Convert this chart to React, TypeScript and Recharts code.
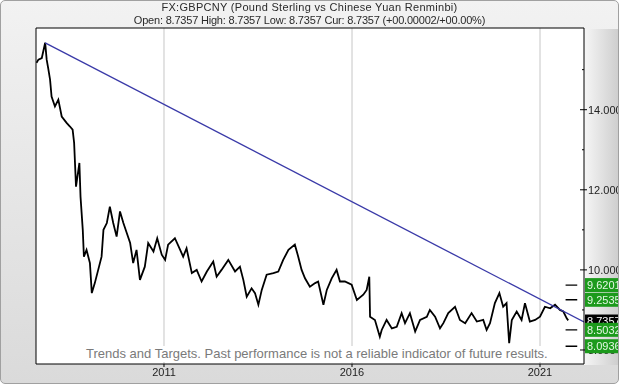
import React from "react";
import {
  LineChart,
  Line,
  XAxis,
  YAxis,
  CartesianGrid,
  ReferenceLine,
} from "recharts";

// GBPCNY, decimal year vs rate
const dates = [
  2007.61, 2007.66, 2007.75, 2007.84, 2007.88, 2007.92, 2007.97, 2008.01, 2008.1, 2008.19,
  2008.28, 2008.41, 2008.5, 2008.57, 2008.61, 2008.66, 2008.75, 2008.78, 2008.84, 2008.87,
  2008.94, 2009.03, 2009.08, 2009.16, 2009.25, 2009.34, 2009.39, 2009.48, 2009.56, 2009.65,
  2009.74, 2009.83, 2009.92, 2010.01, 2010.1, 2010.18, 2010.27, 2010.36, 2010.49, 2010.58,
  2010.72, 2010.82, 2010.94, 2011.03, 2011.11, 2011.29, 2011.43, 2011.51, 2011.6, 2011.74,
  2011.87, 2012.0, 2012.14, 2012.31, 2012.4, 2012.53, 2012.71, 2012.89, 2013.02, 2013.11,
  2013.2, 2013.33, 2013.42, 2013.51, 2013.6, 2013.73, 2013.91, 2014.04, 2014.17, 2014.31,
  2014.48, 2014.57, 2014.66, 2014.75, 2014.88, 2015.02, 2015.1, 2015.24, 2015.33, 2015.46,
  2015.59, 2015.68, 2015.81, 2015.99, 2016.13, 2016.3, 2016.39, 2016.46, 2016.48, 2016.61,
  2016.74, 2016.79, 2016.92, 2017.06, 2017.19, 2017.32, 2017.41, 2017.54, 2017.68, 2017.81,
  2017.99, 2018.07, 2018.21, 2018.34, 2018.43, 2018.56, 2018.74, 2018.87, 2019.01, 2019.18,
  2019.32, 2019.49, 2019.58, 2019.67, 2019.8, 2019.92, 2020.02, 2020.11, 2020.18, 2020.25,
  2020.38, 2020.51, 2020.6, 2020.73, 2020.87, 2021.0, 2021.13, 2021.27, 2021.4, 2021.53,
  2021.62, 2021.71, 2021.75,
];
const rates = [
  15.17, 15.25, 15.29, 15.67, 15.25, 15.04, 14.75, 14.33, 14.08, 14.25,
  13.83, 13.67, 13.58, 13.5, 13.17, 12.08, 12.67, 11.83, 11.0, 10.33,
  10.5, 10.17, 9.42, 9.67, 10.0, 10.33, 11.0, 11.17, 11.58, 11.17,
  10.83, 11.46, 11.17, 10.92, 10.67, 10.17, 10.5, 9.75, 10.08, 10.67,
  10.46, 10.79, 10.38, 10.25, 10.63, 10.79, 10.5, 10.33, 10.54, 9.92,
  10.0, 9.71, 9.96, 10.21, 9.83, 10.0, 10.25, 9.96, 10.08, 9.75,
  9.33, 9.54, 9.42, 9.13, 9.5, 9.88, 9.92, 9.96, 10.25, 10.5,
  10.63, 10.33, 10.0, 9.79, 9.58, 9.67, 9.71, 9.13, 9.5, 9.79,
  10.0, 9.71, 9.71, 9.63, 9.25, 9.38, 9.5, 9.83, 8.83, 8.75,
  8.33, 8.5, 8.75, 8.54, 8.58, 8.92, 8.67, 8.92, 8.46, 8.75,
  8.83, 9.0, 8.83, 8.54, 8.67, 8.92, 9.08, 8.75, 8.67, 8.92,
  8.71, 8.75, 8.5, 8.67, 9.17, 9.42, 9.08, 9.17, 8.17, 8.75,
  8.96, 8.75, 9.17, 8.71, 8.75, 8.83, 9.08, 9.04, 9.13, 9.0,
  8.96, 8.79, 8.74,
];

// trend line from the 2007 high to the right edge
const trendDates = [2007.84, 2022.17];
const trendValues = [15.67, 8.7];

const targetLevels = [9.6201, 9.2535, 8.5032, 8.0936];
const currentLevel = 8.7357;
const targetDashFrom = 2021.68;
const targetDashTo = 2021.99;

const yearTicks = [2011, 2016, 2021];
const majorTicks = [8, 10, 12, 14];
const minorTicks = [9, 11, 13, 15];

const X_DOMAIN: [number, number] = [2007.596, 2022.17];
const Y_DOMAIN: [number, number] = [7.65, 16.04];

const priceData = dates.map((t, i) => ({ t, v: rates[i] }));
const trendData = trendDates.map((t, i) => ({ t, v: trendValues[i] }));

const FONT = "'Liberation Sans', Arial, sans-serif";

const RightTick = (props: any) => {
  const { x, y, payload } = props;
  const v = payload.value as number;
  if (majorTicks.includes(v)) {
    return (
      <g>
        <line x1={x - 4} x2={x + 3} y1={y} y2={y} stroke="#000" />
        <text x={x + 4} y={y + 4} fontSize={11} fill="#222" fontFamily={FONT}>
          {v.toFixed(3)}
        </text>
      </g>
    );
  }
  if (minorTicks.includes(v)) {
    return <line x1={x - 2} x2={x} y1={y} y2={y} stroke="#000" />;
  }
  const isCur = v === currentLevel;
  return (
    <g>
      <rect
        x={x + 1}
        y={isCur ? y - 6 : y - 7}
        width={40}
        height={isCur ? 12 : 14}
        fill={isCur ? "#000" : "#1c9a1c"}
      />
      <text x={x + 3} y={y + 4} fontSize={11} fill={isCur ? "#fff" : "#e4f7e4"} fontFamily={FONT}>
        {v.toFixed(4)}
      </text>
    </g>
  );
};

export default function App() {
  return (
    <div
      style={{
        position: "fixed",
        left: 0,
        top: 0,
        width: 619,
        height: 384,
        boxSizing: "border-box",
        border: "1px solid #a0a0a0",
        borderRadius: 5,
        background: "linear-gradient(to bottom, #f2f2f2, #dadada)",
        overflow: "hidden",
        fontFamily: FONT,
      }}
    >
      <div
        style={{
          position: "absolute",
          left: 583,
          top: 28,
          width: 36,
          height: 336,
          background: "linear-gradient(to right, #f6f6f6, #cccccc)",
        }}
      />
      <div
        style={{
          position: "absolute",
          left: -1,
          top: 0,
          width: 619,
          textAlign: "center",
          fontSize: 11,
          lineHeight: "13px",
          color: "#2a2a2a",
          whiteSpace: "nowrap",
        }}
      >
        <div style={{ letterSpacing: "0.3px" }}>
          FX:GBPCNY (Pound Sterling vs Chinese Yuan Renminbi)
        </div>
        <div style={{ letterSpacing: "-0.2px" }}>
          Open: 8.7357 High: 8.7357 Low: 8.7357 Cur: 8.7357 (+00.00002/+00.00%)
        </div>
      </div>
      <div style={{ position: "absolute", left: -1, top: -1 }}>
        <LineChart
          width={619}
          height={384}
          margin={{ top: 28, right: 0, bottom: 0, left: 0 }}
        >
          <CartesianGrid
            fill="#fff"
            stroke="#c6c6c6"
            horizontalValues={majorTicks}
            verticalValues={yearTicks}
          />
          <XAxis
            type="number"
            dataKey="t"
            domain={X_DOMAIN}
            allowDataOverflow
            ticks={yearTicks}
            interval={0}
            height={20}
            tickSize={3}
            tickMargin={1}
            axisLine={{ stroke: "#000" }}
            tickLine={{ stroke: "#000" }}
            tick={{ fontSize: 11, fill: "#222", fontFamily: FONT }}
          />
          <YAxis
            yAxisId="left"
            orientation="left"
            type="number"
            domain={Y_DOMAIN}
            allowDataOverflow
            ticks={[...majorTicks, ...minorTicks]}
            width={36}
            tick={false}
            tickSize={2}
            axisLine={{ stroke: "#000" }}
            tickLine={{ stroke: "#000" }}
          />
          <YAxis
            yAxisId="right"
            orientation="right"
            type="number"
            domain={Y_DOMAIN}
            allowDataOverflow
            ticks={[...majorTicks, ...minorTicks, currentLevel, ...targetLevels]}
            interval={0}
            width={35}
            tickSize={0}
            tickMargin={0}
            tickLine={false}
            axisLine={{ stroke: "#000" }}
            tick={<RightTick />}
          />
          <ReferenceLine yAxisId="right" y={Y_DOMAIN[1]} stroke="#000" />
          <Line
            yAxisId="right"
            data={priceData}
            dataKey="v"
            type="linear"
            stroke="#000"
            strokeWidth={1.8}
            dot={false}
            isAnimationActive={false}
          />
          <Line
            yAxisId="right"
            data={trendData}
            dataKey="v"
            type="linear"
            stroke="#3a3aa8"
            strokeWidth={1.3}
            dot={false}
            isAnimationActive={false}
          />
          {targetLevels.map((lv) => (
            <ReferenceLine
              key={lv}
              yAxisId="right"
              segment={[
                { x: targetDashFrom, y: lv },
                { x: targetDashTo, y: lv },
              ]}
              stroke="#000"
              strokeWidth={1.4}
            />
          ))}
        </LineChart>
      </div>
      <div
        style={{
          position: "absolute",
          left: 82,
          top: 345,
          padding: "0 3px",
          background: "#fff",
          fontSize: 13,
          lineHeight: "16px",
          color: "#7a7a7a",
          whiteSpace: "nowrap",
        }}
      >
        Trends and Targets. Past performance is not a reliable indicator of future results.
      </div>
    </div>
  );
}
